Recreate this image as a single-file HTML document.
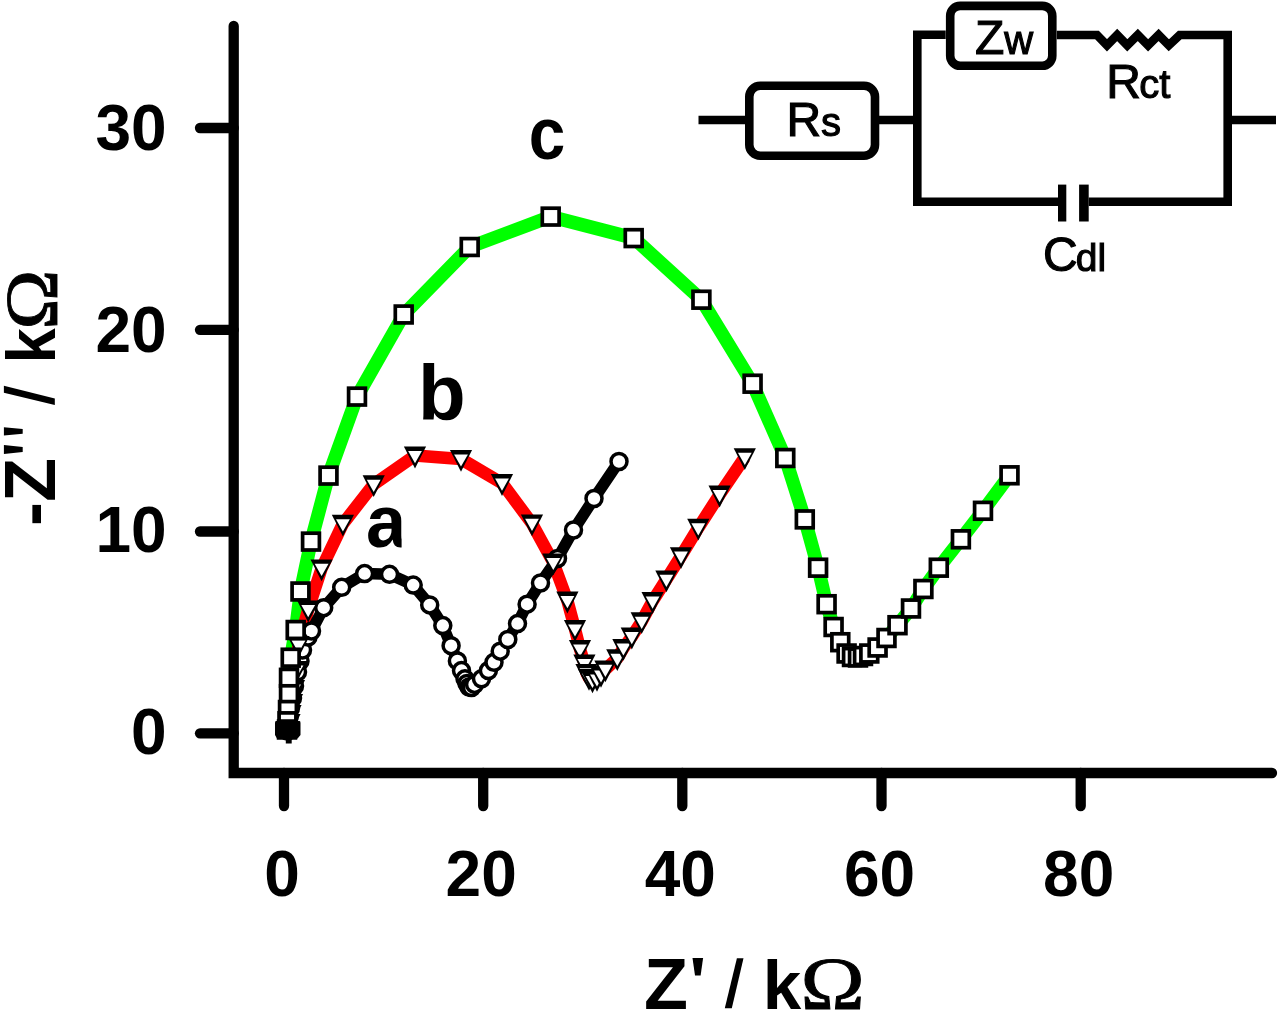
<!DOCTYPE html>
<html><head><meta charset="utf-8"><title>Nyquist plot</title>
<style>html,body{margin:0;padding:0;background:#fff;overflow:hidden}svg{display:block;filter:blur(0.6px)}
</style></head>
<body>
<svg width="1280" height="1013" viewBox="0 0 1280 1013">
<rect width="1280" height="1013" fill="#fff"/>
<g fill="none" stroke="#000" stroke-width="10.3">
<path d="M233.7,26V773H1272" stroke-linecap="round" stroke-linejoin="miter"/>
<path d="M200,128H233.7" stroke-linecap="round"/>
<path d="M200,329.8H233.7" stroke-linecap="round"/>
<path d="M200,531.5H233.7" stroke-linecap="round"/>
<path d="M200,733.3H233.7" stroke-linecap="round"/>
<path d="M284,773V806" stroke-linecap="round"/>
<path d="M483.2,773V806" stroke-linecap="round"/>
<path d="M682.3,773V806" stroke-linecap="round"/>
<path d="M881.5,773V806" stroke-linecap="round"/>
<path d="M1080.7,773V806" stroke-linecap="round"/>
</g>
<g font-family="Liberation Sans, sans-serif" font-weight="bold" font-size="64" fill="#000">
<text x="166.7" y="150" text-anchor="end">30</text>
<text x="166.7" y="351.6" text-anchor="end">20</text>
<text x="166.7" y="551.8" text-anchor="end">10</text>
<text x="166.7" y="753.5" text-anchor="end">0</text>
<text x="282" y="895.5" text-anchor="middle">0</text>
<text x="481.2" y="895.5" text-anchor="middle">20</text>
<text x="680.3" y="895.5" text-anchor="middle">40</text>
<text x="879.5" y="895.5" text-anchor="middle">60</text>
<text x="1078.7" y="895.5" text-anchor="middle">80</text>
</g>
<g font-family="Liberation Sans, sans-serif" font-weight="bold" font-size="72" fill="#000">
<text x="644" y="1008.5">Z</text>
<path d="M692.5,958.1H703.1L700.6,975.6H695Z"/>
<path d="M736.9,958.2H743.5L731.8,1008.3H724.8Z"/>
<text transform="translate(762.8,1008.5) scale(0.96,0.955)">k</text>
<text transform="translate(800.5,1008.5) scale(1.17,1)" font-family="Liberation Serif, serif" font-weight="normal" font-size="74" stroke="#000" stroke-width="0.9">&#937;</text>
<g transform="translate(55,526) rotate(-90)"><text x="0" y="0">-Z</text>
<path d="M72.1,-51.1H81L79,-32.3H74.1ZM90.4,-51.1H98.7L96.9,-32.3H92.2Z"/>
<path d="M133.3,-51.1H140.2L127.4,-0.2H121Z"/>
<text transform="translate(162.6,0) scale(0.88,0.955)">k</text>
<text transform="translate(196.3,2.3) scale(1.095,1)" font-family="Liberation Serif, serif" font-weight="normal" font-size="74" stroke="#000" stroke-width="0.9">&#937;</text></g>
</g>
<g fill="none" stroke-linejoin="round" stroke-linecap="butt">
<polyline points="287,729.5 287.5,721.3 288,710 289,694.2 289,677.8 290.7,657.7 295.7,630 300.5,591.5 311,541.6 328.5,475.6 357,396.6 403.7,314.5 469.7,247 550.7,216.6 633.7,238.1 701.4,299.7 752.6,383.7 785.3,458 804.8,519.4 818.1,567.7 826.6,604.2 833.6,627 840.3,642.2 846.6,653.5 852,657 858,657.5 863,656 869.3,653.5 877.6,647.5 886.5,638 897.5,625.2 911,608.5 923.4,589 938.8,567.7 960.9,539.3 983,510.8 1009.5,475.3" stroke="#00ff00" stroke-width="13.5"/>
<polyline points="288.8,730.5 289.5,723 290.5,714 292,703 294,689 296.5,670 298.5,645 308.2,609.6 321.6,568.4 342.9,523.8 373.7,484.3 415,455.6 461,459 502,483.1 532,523.4 553.3,562.5 567.4,600.6 575,629 580,649 584.4,663.5 586.5,672.9 589,678 592.5,680.5 597,679 601,675 605.4,669.4 617.3,658.3 623.4,648 631.8,636.6 641.7,621.3 652.6,601.1 666.4,579.4 681,556.2 698.3,527.8 719.6,494.6 744.8,457.3" stroke="#ff0000" stroke-width="12.5"/>
<polyline points="287.5,731 288.5,725 289,717 290.5,708 292.5,698 294.5,686 297.5,672 300,661 302.5,650 308,637 311.5,631 323.7,607.7 341.7,587.3 364.6,573.6 389.5,574.3 413.2,585.1 429.7,604.9 442.8,625.6 451.1,645.7 457.4,660.9 461.5,670.6 465,678.8 467,683.5 469.1,687 471.5,687.5 474.6,684.4 481.5,678.8 488.4,670.6 494,662.3 500.2,651.2 507.8,639.5 517.5,623.6 527.1,604.2 540.5,583 557.5,558.5 573.5,530 594,498.5 619,461.5" stroke="#000" stroke-width="11.5"/>
</g>
<g fill="#fff" stroke="#000" stroke-width="3.5"><circle cx="287.5" cy="731" r="8"/><circle cx="288.5" cy="725" r="8"/><circle cx="289" cy="717" r="8"/><circle cx="290.5" cy="708" r="8"/><circle cx="292.5" cy="698" r="8"/><circle cx="294.5" cy="686" r="8"/><circle cx="297.5" cy="672" r="8"/><circle cx="300" cy="661" r="8"/><circle cx="302.5" cy="650" r="8"/><circle cx="308" cy="637" r="8"/><circle cx="311.5" cy="631" r="8"/><circle cx="323.7" cy="607.7" r="8"/><circle cx="341.7" cy="587.3" r="8"/><circle cx="364.6" cy="573.6" r="8"/><circle cx="389.5" cy="574.3" r="8"/><circle cx="413.2" cy="585.1" r="8"/><circle cx="429.7" cy="604.9" r="8"/><circle cx="442.8" cy="625.6" r="8"/><circle cx="451.1" cy="645.7" r="8"/><circle cx="457.4" cy="660.9" r="8"/><circle cx="461.5" cy="670.6" r="8"/><circle cx="465" cy="678.8" r="8"/><circle cx="467" cy="683.5" r="8"/><circle cx="469.1" cy="687" r="8"/><circle cx="471.5" cy="687.5" r="8"/><circle cx="474.6" cy="684.4" r="8"/><circle cx="481.5" cy="678.8" r="8"/><circle cx="488.4" cy="670.6" r="8"/><circle cx="494" cy="662.3" r="8"/><circle cx="500.2" cy="651.2" r="8"/><circle cx="507.8" cy="639.5" r="8"/><circle cx="517.5" cy="623.6" r="8"/><circle cx="527.1" cy="604.2" r="8"/><circle cx="540.5" cy="583" r="8"/><circle cx="557.5" cy="558.5" r="8"/><circle cx="573.5" cy="530" r="8"/><circle cx="594" cy="498.5" r="8"/><circle cx="619" cy="461.5" r="8"/></g>
<g><path fill="#000" d="M277.7,721.5H299.9L288.8,743.3Z"/><path fill="#fff" d="M281.9,725.9H295.7L288.8,738.1Z"/><path fill="#000" d="M278.4,714H300.6L289.5,735.8Z"/><path fill="#fff" d="M282.6,718.4H296.4L289.5,730.6Z"/><path fill="#000" d="M279.4,705H301.6L290.5,726.8Z"/><path fill="#fff" d="M283.6,709.4H297.4L290.5,721.6Z"/><path fill="#000" d="M280.9,694H303.1L292,715.8Z"/><path fill="#fff" d="M285.1,698.4H298.9L292,710.6Z"/><path fill="#000" d="M282.9,680H305.1L294,701.8Z"/><path fill="#fff" d="M287.1,684.4H300.9L294,696.6Z"/><path fill="#000" d="M285.4,661H307.6L296.5,682.8Z"/><path fill="#fff" d="M289.6,665.4H303.4L296.5,677.6Z"/><path fill="#000" d="M287.4,636H309.6L298.5,657.8Z"/><path fill="#fff" d="M291.6,640.4H305.4L298.5,652.6Z"/><path fill="#000" d="M297.1,600.6H319.3L308.2,622.4Z"/><path fill="#fff" d="M301.3,605H315.1L308.2,617.2Z"/><path fill="#000" d="M310.5,559.4H332.7L321.6,581.2Z"/><path fill="#fff" d="M314.7,563.8H328.5L321.6,576Z"/><path fill="#000" d="M331.8,514.8H354L342.9,536.6Z"/><path fill="#fff" d="M336,519.2H349.8L342.9,531.4Z"/><path fill="#000" d="M362.6,475.3H384.8L373.7,497.1Z"/><path fill="#fff" d="M366.8,479.7H380.6L373.7,491.9Z"/><path fill="#000" d="M403.9,446.6H426.1L415,468.4Z"/><path fill="#fff" d="M408.1,451H421.9L415,463.2Z"/><path fill="#000" d="M449.9,450H472.1L461,471.8Z"/><path fill="#fff" d="M454.1,454.4H467.9L461,466.6Z"/><path fill="#000" d="M490.9,474.1H513.1L502,495.9Z"/><path fill="#fff" d="M495.1,478.5H508.9L502,490.7Z"/><path fill="#000" d="M520.9,514.4H543.1L532,536.2Z"/><path fill="#fff" d="M525.1,518.8H538.9L532,531Z"/><path fill="#000" d="M542.2,553.5H564.4L553.3,575.3Z"/><path fill="#fff" d="M546.4,557.9H560.2L553.3,570.1Z"/><path fill="#000" d="M556.3,591.6H578.5L567.4,613.4Z"/><path fill="#fff" d="M560.5,596H574.3L567.4,608.2Z"/><path fill="#000" d="M563.9,620H586.1L575,641.8Z"/><path fill="#fff" d="M568.1,624.4H581.9L575,636.6Z"/><path fill="#000" d="M568.9,640H591.1L580,661.8Z"/><path fill="#fff" d="M573.1,644.4H586.9L580,656.6Z"/><path fill="#000" d="M573.3,654.5H595.5L584.4,676.3Z"/><path fill="#fff" d="M577.5,658.9H591.3L584.4,671.1Z"/><path fill="#000" d="M575.4,663.9H597.6L586.5,685.7Z"/><path fill="#fff" d="M579.6,668.3H593.4L586.5,680.5Z"/><path fill="#000" d="M577.9,669H600.1L589,690.8Z"/><path fill="#fff" d="M582.1,673.4H595.9L589,685.6Z"/><path fill="#000" d="M581.4,671.5H603.6L592.5,693.3Z"/><path fill="#fff" d="M585.6,675.9H599.4L592.5,688.1Z"/><path fill="#000" d="M585.9,670H608.1L597,691.8Z"/><path fill="#fff" d="M590.1,674.4H603.9L597,686.6Z"/><path fill="#000" d="M589.9,666H612.1L601,687.8Z"/><path fill="#fff" d="M594.1,670.4H607.9L601,682.6Z"/><path fill="#000" d="M594.3,660.4H616.5L605.4,682.2Z"/><path fill="#fff" d="M598.5,664.8H612.3L605.4,677Z"/><path fill="#000" d="M606.2,649.3H628.4L617.3,671.1Z"/><path fill="#fff" d="M610.4,653.7H624.2L617.3,665.9Z"/><path fill="#000" d="M612.3,639H634.5L623.4,660.8Z"/><path fill="#fff" d="M616.5,643.4H630.3L623.4,655.6Z"/><path fill="#000" d="M620.7,627.6H642.9L631.8,649.4Z"/><path fill="#fff" d="M624.9,632H638.7L631.8,644.2Z"/><path fill="#000" d="M630.6,612.3H652.8L641.7,634.1Z"/><path fill="#fff" d="M634.8,616.7H648.6L641.7,628.9Z"/><path fill="#000" d="M641.5,592.1H663.7L652.6,613.9Z"/><path fill="#fff" d="M645.7,596.5H659.5L652.6,608.7Z"/><path fill="#000" d="M655.3,570.4H677.5L666.4,592.2Z"/><path fill="#fff" d="M659.5,574.8H673.3L666.4,587Z"/><path fill="#000" d="M669.9,547.2H692.1L681,569Z"/><path fill="#fff" d="M674.1,551.6H687.9L681,563.8Z"/><path fill="#000" d="M687.2,518.8H709.4L698.3,540.6Z"/><path fill="#fff" d="M691.4,523.2H705.2L698.3,535.4Z"/><path fill="#000" d="M708.5,485.6H730.7L719.6,507.4Z"/><path fill="#fff" d="M712.7,490H726.5L719.6,502.2Z"/><path fill="#000" d="M733.7,448.3H755.9L744.8,470.1Z"/><path fill="#fff" d="M737.9,452.7H751.7L744.8,464.9Z"/></g>
<g fill="#fff" stroke="#000" stroke-width="3.7"><rect x="280.6" y="669.4" width="16.8" height="16.8"/><rect x="280.6" y="685.8" width="16.8" height="16.8"/><rect x="279.6" y="701.6" width="16.8" height="16.8"/><rect x="279.1" y="712.9" width="16.8" height="16.8"/><rect x="278.6" y="721.1" width="16.8" height="16.8"/><rect x="282.3" y="649.3" width="16.8" height="16.8"/><rect x="287.3" y="621.6" width="16.8" height="16.8"/><rect x="292.1" y="583.1" width="16.8" height="16.8"/><rect x="302.6" y="533.2" width="16.8" height="16.8"/><rect x="320.1" y="467.2" width="16.8" height="16.8"/><rect x="348.6" y="388.2" width="16.8" height="16.8"/><rect x="395.3" y="306.1" width="16.8" height="16.8"/><rect x="461.3" y="238.6" width="16.8" height="16.8"/><rect x="542.3" y="208.2" width="16.8" height="16.8"/><rect x="625.3" y="229.7" width="16.8" height="16.8"/><rect x="693" y="291.3" width="16.8" height="16.8"/><rect x="744.2" y="375.3" width="16.8" height="16.8"/><rect x="776.9" y="449.6" width="16.8" height="16.8"/><rect x="796.4" y="511" width="16.8" height="16.8"/><rect x="809.7" y="559.3" width="16.8" height="16.8"/><rect x="818.2" y="595.8" width="16.8" height="16.8"/><rect x="825.2" y="618.6" width="16.8" height="16.8"/><rect x="831.9" y="633.8" width="16.8" height="16.8"/><rect x="838.2" y="645.1" width="16.8" height="16.8"/><rect x="843.6" y="648.6" width="16.8" height="16.8"/><rect x="849.6" y="649.1" width="16.8" height="16.8"/><rect x="854.6" y="647.6" width="16.8" height="16.8"/><rect x="860.9" y="645.1" width="16.8" height="16.8"/><rect x="869.2" y="639.1" width="16.8" height="16.8"/><rect x="878.1" y="629.6" width="16.8" height="16.8"/><rect x="889.1" y="616.8" width="16.8" height="16.8"/><rect x="902.6" y="600.1" width="16.8" height="16.8"/><rect x="915" y="580.6" width="16.8" height="16.8"/><rect x="930.4" y="559.3" width="16.8" height="16.8"/><rect x="952.5" y="530.9" width="16.8" height="16.8"/><rect x="974.6" y="502.4" width="16.8" height="16.8"/><rect x="1001.1" y="466.9" width="16.8" height="16.8"/></g>
<path fill="#000" d="M276,721H299.5Q300.5,721 300.5,723V735L297.6,738.5H291.7V743.4H285.8V738.5H277L275,735V723Q275,721 276,721Z"/>
<g font-family="Liberation Sans, sans-serif" font-weight="bold" fill="#000">
<clipPath id="ca"><rect x="350" y="490" width="51.6" height="70"/></clipPath>
<g clip-path="url(#ca)"><text transform="translate(366,547) scale(0.98,1)" font-size="74">a</text></g>
<text x="418" y="419.8" font-size="78">b</text>
<text transform="translate(528.8,158.7) scale(0.875,1)" font-size="75">c</text>
</g>
<g fill="none" stroke="#000" stroke-width="8.6" stroke-linejoin="miter">
<path d="M698.5,120H745"/>
<rect x="749.3" y="85.7" width="125.7" height="70" rx="11"/>
<path d="M879,120H917.3"/>
<path d="M945.7,34.8H917.3V201.7H1058"/>
<rect x="950.2" y="5.9" width="102.1" height="59.9" rx="10"/>
<path d="M1056.8,35H1097L1107,45.3L1117.2,34.9L1127.3,45.3L1137.8,34.9L1148.1,45.3L1158.6,34.9L1168.8,45.3L1179.7,35H1227.7V201.7H1088.7"/>
<path d="M1227.7,120H1276"/>
</g>
<g fill="#000"><rect x="1058" y="184.6" width="8.3" height="36.9"/><rect x="1079.1" y="184.6" width="9.6" height="36.9"/></g>
<g font-family="Liberation Sans, sans-serif" font-size="48" fill="#000" stroke="#000" stroke-width="1.1">
<text x="786.4" y="135.5">R<tspan font-size="40">s</tspan></text>
<text x="975" y="54.1">Z<tspan font-size="40">w</tspan></text>
<text x="1106.3" y="98.1">R<tspan font-size="40" dx="-1.6">ct</tspan></text>
<text x="1043" y="271.3">C<tspan font-size="39" dx="-1.8">dl</tspan></text>
</g>
</svg>
</body></html>
